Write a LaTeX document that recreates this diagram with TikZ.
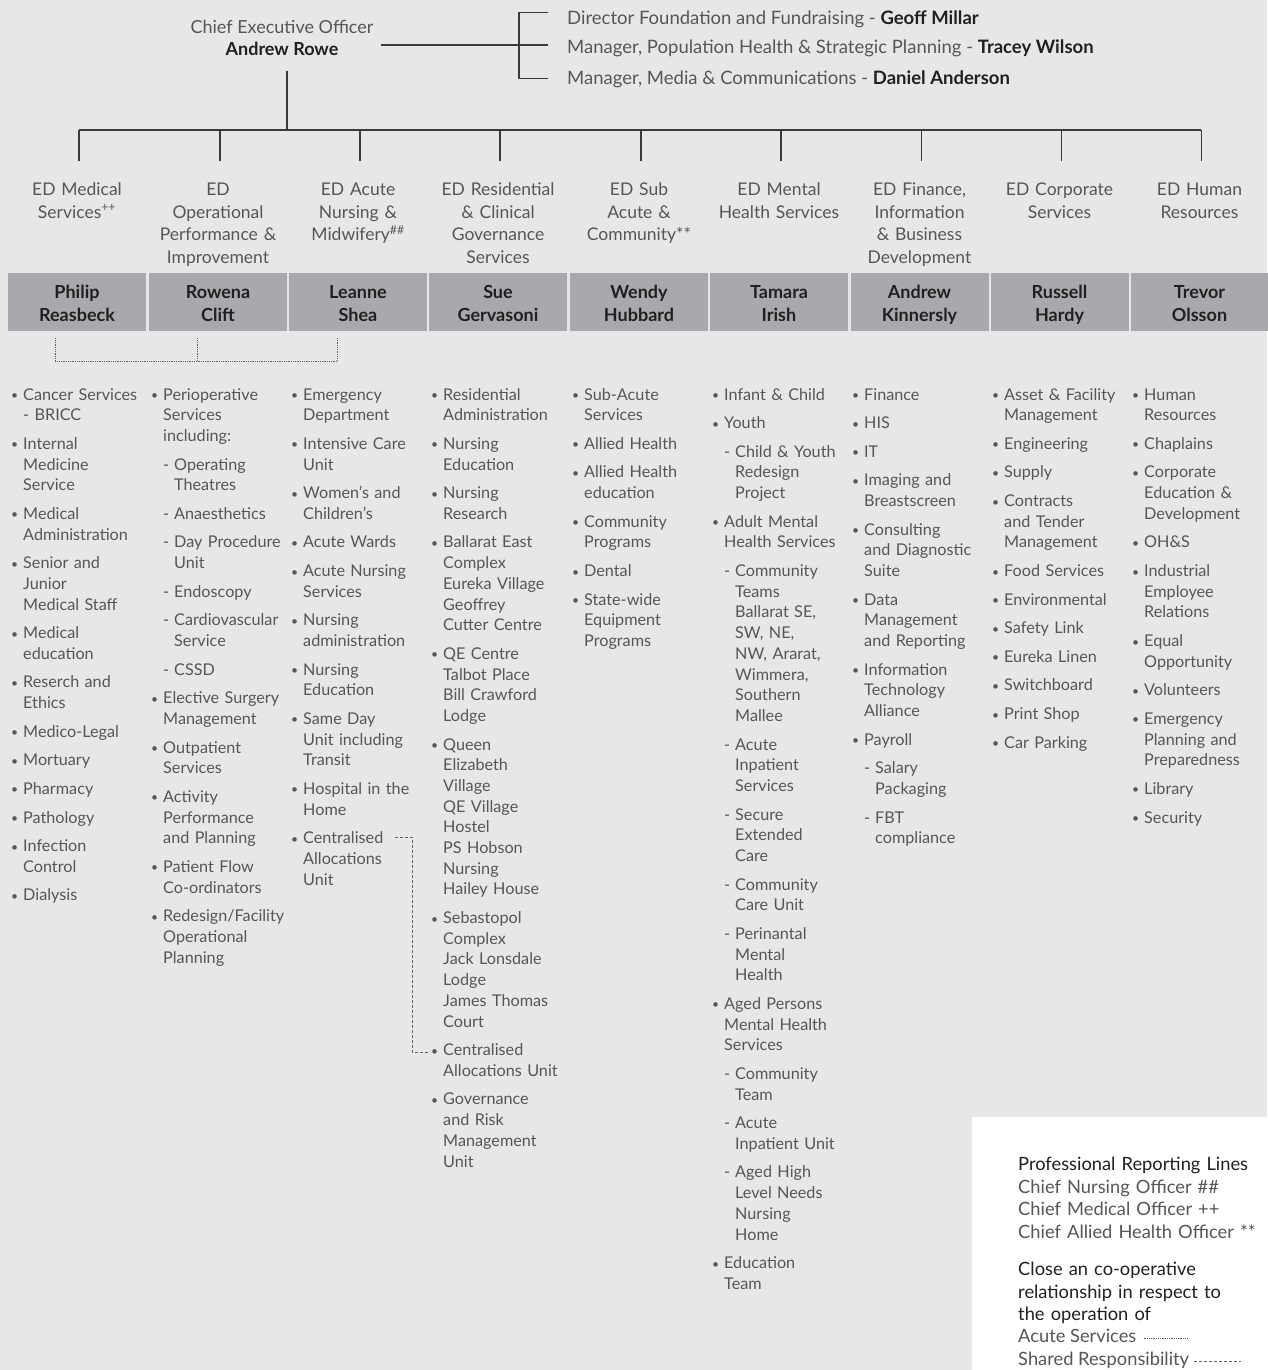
\documentclass[tikz,border=0pt]{standalone}
\usepackage{fontspec}
\setmainfont{Lato}
\usepackage{graphicx}
\definecolor{bg}{HTML}{E6E7E8}
\definecolor{boxg}{HTML}{A7A9AC}
\definecolor{dark}{HTML}{231F20}
\definecolor{txt}{HTML}{555658}
\definecolor{ln}{HTML}{3A3A3C}
\newcommand\bulmark{\makebox[12pt][l]{\raisebox{0.5pt}{\scalebox{0.75}{\textbullet}}}}
\newcommand\bitem[1]{\par\begingroup\let\\\newline\hangindent=12pt\hangafter=1\noindent\rule{0pt}{13pt}\bulmark #1\par\endgroup}
\newcommand\sitem[1]{\par\begingroup\let\\\newline\hangindent=23pt\hangafter=1\noindent\rule{0pt}{13pt}\hspace*{12pt}\makebox[11pt][l]{-}#1\par\endgroup}
\newcommand\colstart{\setlength{\parskip}{7.9pt}\setlength{\parindent}{0pt}}
\tikzset{
  lst/.style={anchor=north west, inner sep=0pt, text width=150pt, align=left, text=txt, font=\fontsize{16.2}{20.7}\selectfont},
  hdr/.style={anchor=north, inner sep=0pt, text width=138pt, align=center, text=txt, font=\fontsize{17.5}{22.5}\selectfont},
  nm/.style={anchor=north, inner sep=0pt, text width=136pt, align=center, text=dark, font=\fontsize{18}{22.5}\selectfont\bfseries},
  bx/.style={fill=boxg, inner sep=0pt, minimum height=58pt, minimum width=138pt},
  conn/.style={draw=ln, line width=1.2pt},
  acute/.style={draw=ln!80, line width=0.6pt, dash pattern=on 0.6pt off 1.2pt},
  shared/.style={draw=ln!80, line width=0.7pt, dash pattern=on 3pt off 2pt},
  top/.style={anchor=base west, inner sep=0pt, text=txt, font=\fontsize{18.5}{22.5}\selectfont},
  legt/.style={anchor=base west, inner sep=0pt, text=txt, font=\fontsize{18.3}{22.5}\selectfont},
  leg/.style={anchor=north west, inner sep=0pt, text width=280pt, align=left, text=txt, font=\fontsize{18.3}{22.5}\selectfont},
}
\begin{document}
\begin{tikzpicture}[x=1pt,y=-1pt]
\useasboundingbox (0,0) rectangle (1267,1370);
\fill[bg] (0,0) rectangle (1267,1370);

% CEO and direct reports
\node[anchor=north, inner sep=0pt, align=center, text=txt, font=\fontsize{18}{22}\selectfont] (ceo) at (282,18.5)
  {\rule{0pt}{15pt}Chief Executive Officer\\{\color{dark}\bfseries Andrew Rowe}};
\node[top] (d1) at (567,24.7) {Director Foundation and Fundraising - {\color{dark}\bfseries Geoff Millar}};
\node[top] (d2) at (567,53.7) {Manager, Population Health \& Strategic Planning - {\color{dark}\bfseries Tracey Wilson}};
\node[top] (d3) at (567,84.7) {Manager, Media \& Communications - {\color{dark}\bfseries Daniel Anderson}};
\coordinate (bt) at (519,12.7);
\coordinate (bm) at (519,45);
\coordinate (bb) at (519,78.7);
\coordinate (bus) at (287,130);
\draw[conn] ([xshift=7pt]ceo.east |- bm) -- (bm);
\draw[conn] ([xshift=-19pt]d1.west |- bt) -- (bt) -- (bb) -- ([xshift=-19pt]d3.west |- bb);
\draw[conn] ([xshift=-19pt]d2.west |- bm) -- (bm);
\draw[conn] (ceo.south -| bus) ++(0,15) -- (bus);

% headers
\node[hdr] (t1) at (77,180.3) {\rule{0pt}{15pt}ED Medical\\Services\textsuperscript{++}};
\node[hdr] (t2) at (218,180.3) {\rule{0pt}{15pt}ED\\Operational\\Performance \&\\Improvement};
\node[hdr] (t3) at (358,180.3) {\rule{0pt}{15pt}ED Acute\\Nursing \&\\Midwifery\textsuperscript{\#\#}};
\node[hdr] (t4) at (498,180.3) {\rule{0pt}{15pt}ED Residential\\\& Clinical\\Governance\\Services};
\node[hdr] (t5) at (639,180.3) {\rule{0pt}{15pt}ED Sub\\Acute \&\\Community**};
\node[hdr] (t6) at (779,180.3) {\rule{0pt}{15pt}ED Mental\\Health Services};
\node[hdr] (t7) at (919.5,180.3) {\rule{0pt}{15pt}ED Finance,\\Information\\\& Business\\Development};
\node[hdr] (t8) at (1059.5,180.3) {\rule{0pt}{15pt}ED Corporate\\Services};
\node[hdr] (t9) at (1199.5,180.3) {\rule{0pt}{15pt}ED Human\\Resources};

\draw[conn] ([xshift=2pt]t1.north |- bus) -- ([xshift=1pt]t9.north |- bus);
\foreach \i in {1,...,9} {
  \draw[conn] ([xshift=2pt,yshift=19.3pt]t\i.north) -- ([xshift=2pt]t\i.north |- bus);
}

% name boxes
\node[bx] (b1) at (77,302) {};
\node[bx] (b2) at (218,302) {};
\node[bx] (b3) at (358,302) {};
\node[bx] (b4) at (498,302) {};
\node[bx] (b5) at (639,302) {};
\node[bx] (b6) at (779,302) {};
\node[bx] (b7) at (919.5,302) {};
\node[bx] (b8) at (1059.5,302) {};
\node[bx] (b9) at (1199.5,302) {};
\node[nm] (n1) at (77,283.5) {\rule{0pt}{15pt}Philip\\Reasbeck};
\node[nm] (n2) at (218,283.5) {\rule{0pt}{15pt}Rowena\\Clift};
\node[nm] (n3) at (358,283.5) {\rule{0pt}{15pt}Leanne\\Shea};
\node[nm] (n4) at (498,283.5) {\rule{0pt}{15pt}Sue\\Gervasoni};
\node[nm] (n5) at (639,283.5) {\rule{0pt}{15pt}Wendy\\Hubbard};
\node[nm] (n6) at (779,283.5) {\rule{0pt}{15pt}Tamara\\Irish};
\node[nm] (n7) at (919.5,283.5) {\rule{0pt}{15pt}Andrew\\Kinnersly};
\node[nm] (n8) at (1059.5,283.5) {\rule{0pt}{15pt}Russell\\Hardy};
\node[nm] (n9) at (1199.5,283.5) {\rule{0pt}{15pt}Trevor\\Olsson};

% acute services dotted link
\draw[acute] ([xshift=-22pt,yshift=-7pt]b1.south) |- ([xshift=-21pt,yshift=-30pt]b3.south) -- ([xshift=-21pt,yshift=-7pt]b3.south);
\draw[acute] ([xshift=-21pt,yshift=-7pt]b2.south) -- ([xshift=-21pt,yshift=-30pt]b2.south);

% lists
\node[lst] (c1) at (11,371.2) {\colstart
\bitem{Cancer Services\\- BRICC}
\bitem{Internal\\Medicine\\Service}
\bitem{Medical\\Administration}
\bitem{Senior and\\Junior\\Medical Staff}
\bitem{Medical\\education}
\bitem{Reserch and\\Ethics}
\bitem{Medico-Legal}
\bitem{Mortuary}
\bitem{Pharmacy}
\bitem{Pathology}
\bitem{Infection\\Control}
\bitem{Dialysis}};

\node[lst] (c2) at (151,371.2) {\colstart
\bitem{Perioperative\\Services\\including:}
\sitem{Operating\\Theatres}
\sitem{Anaesthetics}
\sitem{Day Procedure\\Unit}
\sitem{Endoscopy}
\sitem{Cardiovascular\\Service}
\sitem{CSSD}
\bitem{Elective Surgery\\Management}
\bitem{Outpatient\\Services}
\bitem{Activity\\Performance\\and Planning}
\bitem{Patient Flow\\Co-ordinators}
\bitem{Redesign/Facility\\Operational\\Planning}};

\node[lst] (c3) at (291,371.2) {\colstart
\bitem{Emergency\\Department}
\bitem{Intensive Care\\Unit}
\bitem{Women’s and\\Children’s}
\bitem{Acute Wards}
\bitem{Acute Nursing\\Services}
\bitem{Nursing\\administration}
\bitem{Nursing\\Education}
\bitem{Same Day\\Unit including\\Transit}
\bitem{Hospital in the\\Home}
\bitem{Centralised\\Allocations\\Unit}};

\node[lst] (c4) at (431,371.2) {\colstart
\bitem{Residential\\Administration}
\bitem{Nursing\\Education}
\bitem{Nursing\\Research}
\bitem{Ballarat East\\Complex\\Eureka Village\\Geoffrey\\Cutter Centre}
\bitem{QE Centre\\Talbot Place\\Bill Crawford\\Lodge}
\bitem{Queen\\Elizabeth\\Village\\QE Village\\Hostel\\PS Hobson\\Nursing\\Hailey House}
\bitem{Sebastopol\\Complex\\Jack Lonsdale\\Lodge\\James Thomas\\Court}
\bitem{Centralised\\Allocations Unit}
\bitem{Governance\\and Risk\\Management\\Unit}};

\node[lst] (c5) at (572,371.2) {\colstart
\bitem{Sub-Acute\\Services}
\bitem{Allied Health}
\bitem{Allied Health\\education}
\bitem{Community\\Programs}
\bitem{Dental}
\bitem{State-wide\\Equipment\\Programs}};

\node[lst] (c6) at (712,371.2) {\colstart
\bitem{Infant \& Child}
\bitem{Youth}
\sitem{Child \& Youth\\Redesign\\Project}
\bitem{Adult Mental\\Health Services}
\sitem{Community\\Teams\\Ballarat SE,\\SW, NE,\\NW, Ararat,\\Wimmera,\\Southern\\Mallee}
\sitem{Acute\\Inpatient\\Services}
\sitem{Secure\\Extended\\Care}
\sitem{Community\\Care Unit}
\sitem{Perinantal\\Mental\\Health}
\bitem{Aged Persons\\Mental Health\\Services}
\sitem{Community\\Team}
\sitem{Acute\\Inpatient Unit}
\sitem{Aged High\\Level Needs\\Nursing\\Home}
\bitem{Education\\Team}};

\node[lst] (c7) at (852,371.2) {\colstart
\bitem{Finance}
\bitem{HIS}
\bitem{IT}
\bitem{Imaging and\\Breastscreen}
\bitem{Consulting\\and Diagnostic\\Suite}
\bitem{Data\\Management\\and Reporting}
\bitem{Information\\Technology\\Alliance}
\bitem{Payroll}
\sitem{Salary\\Packaging}
\sitem{FBT\\compliance}};

\node[lst] (c8) at (992,371.2) {\colstart
\bitem{Asset \& Facility\\Management}
\bitem{Engineering}
\bitem{Supply}
\bitem{Contracts\\and Tender\\Management}
\bitem{Food Services}
\bitem{Environmental}
\bitem{Safety Link}
\bitem{Eureka Linen}
\bitem{Switchboard}
\bitem{Print Shop}
\bitem{Car Parking}};

\node[lst] (c9) at (1132,371.2) {\colstart
\bitem{Human\\Resources}
\bitem{Chaplains}
\bitem{Corporate\\Education \&\\Development}
\bitem{OH\&S}
\bitem{Industrial\\Employee\\Relations}
\bitem{Equal\\Opportunity}
\bitem{Volunteers}
\bitem{Emergency\\Planning and\\Preparedness}
\bitem{Library}
\bitem{Security}};

% shared responsibility dashed link
\coordinate (cauA) at (395,837);
\coordinate (cauB) at (430,1052);
\draw[shared] (cauA) -- ++(17,0) |- (cauB);

% legend
\fill[white] (972,1117) rectangle (1267,1370);
\node[leg] (l1) at (1018,1155.6) {\rule{0pt}{15pt}{\color{dark}Professional Reporting Lines}\\Chief Nursing Officer \#\#\\Chief Medical Officer ++\\Chief Allied Health Officer **};
\node[leg] (l2) at (1018,1260.6) {\color{dark}\rule{0pt}{15pt}Close an co-operative\\relationship in respect to\\the operation of};
\node[legt] (l3) at (1018,1342.6) {Acute Services};
\node[legt] (l4) at (1018,1365.6) {Shared Responsibility};
\draw[acute] ([xshift=7pt,yshift=4pt]l3.base east) -- ++(45,0);
\draw[shared] ([xshift=5pt,yshift=4pt]l4.base east) -- ++(47,0);
\end{tikzpicture}
\end{document}
